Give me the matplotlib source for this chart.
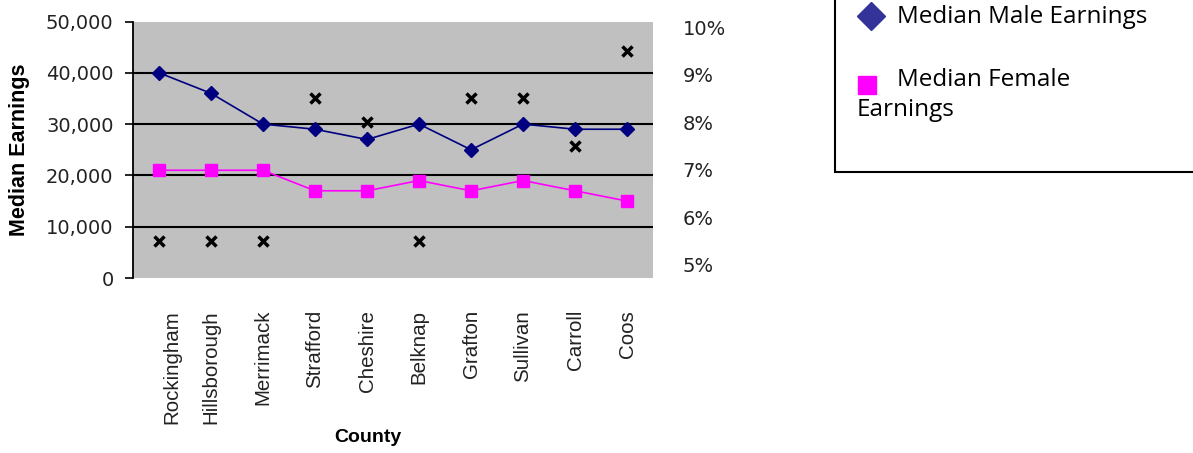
import numpy as np
import matplotlib.pyplot as plt
import matplotlib.transforms as mtransforms
from matplotlib.lines import Line2D
from matplotlib.patches import Rectangle

counties = ['Rockingham', 'Hillsborough', 'Merrimack', 'Strafford', 'Cheshire',
            'Belknap', 'Grafton', 'Sullivan', 'Carroll', 'Coos']
male = [40000, 36000, 30000, 29000, 27000, 30000, 25000, 30000, 29000, 29000]
female = [21000, 21000, 21000, 17000, 17000, 19000, 17000, 19000, 17000, 15000]
rate = [5.5, 5.5, 5.5, 8.5, 8.0, 5.5, 8.5, 8.5, 7.5, 9.5]  # right axis, %

left_ticks = [0, 10000, 20000, 30000, 40000, 50000]
right_ticks = [5, 6, 7, 8, 9, 10]

W, H = 1193, 453
fig = plt.figure(figsize=(W / 100, H / 100), dpi=100)
ax = fig.add_axes([133 / W, 1 - 278 / H, 520 / W, 256.5 / H])

x = np.arange(len(counties))
ax.set_facecolor('#C0C0C0')
ax.set_xlim(-0.5, len(counties) - 0.5)
ax.set_ylim(0, 50000)

# grid lines
for v in left_ticks[1:-1]:
    ax.axhline(v, color='black', linewidth=1.5, zorder=1)

ax.plot(x, male, color='#000080', linewidth=1.2, marker='D', markersize=7,
        zorder=3)
ax.plot(x, female, color='#FF00FF', linewidth=1.2, marker='s', markersize=8.5,
        zorder=3)

for s in ['top', 'right', 'bottom']:
    ax.spines[s].set_visible(False)
ax.spines['left'].set_linewidth(1.3)

ax.set_yticks(left_ticks)
ax.set_yticklabels([f'{v:,}' for v in left_ticks])
ax.tick_params(axis='y', length=6, width=1.2, labelsize=14, pad=8)
for lab in ax.get_yticklabels():
    lab.set_family('DejaVu Sans')
    lab.set_color('#222222')

ax.set_xticks(x)
ax.set_xticklabels(counties, rotation=90, va='top', ha='center')
ax.tick_params(axis='x', length=0, labelsize=14.8, pad=23)
for lab in ax.get_xticklabels():
    lab.set_family('Liberation Sans')
    lab.set_color('#222222')
# first label sits a bit right of its point in the original
lab0 = ax.get_xticklabels()[0]
lab0.set_transform(lab0.get_transform() +
                   mtransforms.ScaledTranslation(13 / 100, 0, fig.dpi_scale_trans))

ax.set_ylabel('Median Earnings', fontsize=15.5, fontweight='bold',
              family='Liberation Sans')
ax.yaxis.set_label_coords((30 - 133) / 520, 0.5)
ax.set_xlabel('County', fontsize=14, fontweight='bold',
              family='Liberation Sans')
ax.xaxis.set_label_coords((368 - 133) / 520, (278 - 437) / 256.5)
ax.xaxis.label.set_va('center')

ax2 = ax.twinx()
# the percent scale runs from 5% at y=265 px to 10% at y=27 px
ax2.set_ylim(5 - 13 / 47.6, 10 + 5.5 / 47.6)
ax2.plot(x, rate, linestyle='none', marker='x', markersize=7,
         markeredgewidth=2.5, color='black', zorder=4)
ax2.set_yticks(right_ticks)
ax2.set_yticklabels([f'{v}%' for v in right_ticks])
ax2.tick_params(axis='y', length=0, labelsize=14, pad=21.5)
for lab in ax2.get_yticklabels():
    lab.set_family('DejaVu Sans')
    lab.set_color('#222222')
for s in ax2.spines.values():
    s.set_visible(False)

# legend box (partly off the figure, as in the reference)
fig.patches.append(Rectangle((835 / W, 1 - 172 / H), 0.5, 0.5,
                             transform=fig.transFigure, facecolor='white',
                             edgecolor='black', linewidth=1.5))
fig.lines.append(Line2D([871 / W], [1 - 16 / H], transform=fig.transFigure,
                        marker='D', markersize=14, color='#333399',
                        linestyle='none'))
fig.lines.append(Line2D([867 / W], [1 - 85 / H], transform=fig.transFigure,
                        marker='s', markersize=13, color='#FF00FF',
                        linestyle='none'))
fig.text(897 / W, 1 - 17 / H, 'Median Male Earnings', fontsize=17.5,
         family='Open Sans', va='center', ha='left')
fig.text(897 / W, 1 - 80 / H, 'Median Female', fontsize=17.5,
         family='Open Sans', va='center', ha='left')
fig.text(857 / W, 1 - 110 / H, 'Earnings', fontsize=17.5,
         family='Open Sans', va='center', ha='left')

fig.savefig('out.png', dpi=100)
